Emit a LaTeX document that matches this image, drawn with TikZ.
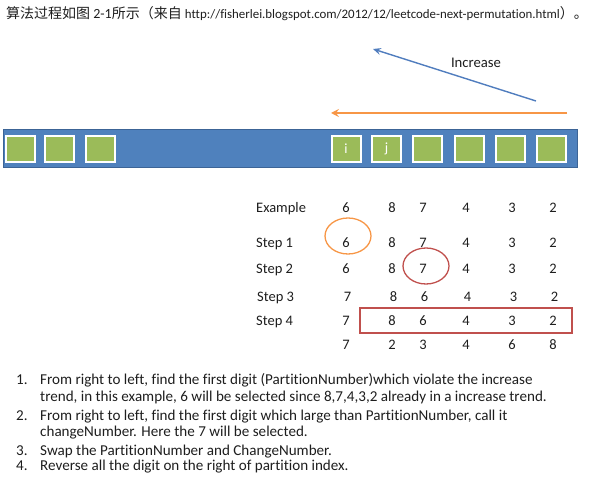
\documentclass[tikz,border=0pt]{standalone}
\usepackage{fontspec}
\setmainfont{Carlito}[Ligatures={NoCommon,NoRare}]
\newfontfamily\cjk{Noto Sans CJK SC}
\usetikzlibrary{arrows.meta,shapes.geometric}
\definecolor{barblue}{RGB}{79,129,189}
\definecolor{baredge}{RGB}{60,100,150}
\definecolor{sqgreen}{RGB}{155,187,89}
\definecolor{arrblue}{RGB}{80,125,190}
\definecolor{arrorange}{RGB}{247,150,70}
\definecolor{markred}{RGB}{192,80,77}
\definecolor{txt}{RGB}{30,30,30}
\begin{document}
\begin{tikzpicture}[x=1pt,y=-1pt,
  sq/.style={draw=white,line width=2pt,fill=sqgreen,minimum width=29pt,minimum height=26pt,inner sep=0pt,text=white,font=\fontsize{14}{14}\selectfont},
  cell/.style={inner sep=0pt,text=txt,font=\fontsize{14.5}{14.5}\selectfont,text height=9pt,text depth=0pt},
  rowlab/.style={cell,anchor=west},
  item/.style={inner sep=0pt,anchor=west,text=txt,font=\fontsize{15.1}{15}\selectfont,text height=9pt,text depth=0pt},
  ringmark/.style={draw=#1,line width=1.3pt,ellipse,minimum width=46pt,minimum height=36pt,inner sep=0pt}]
\useasboundingbox (0,0) rectangle (589,486);
% title
\node[inner sep=0pt,anchor=west,text=txt,font=\fontsize{14}{14}\selectfont] (title) at (6,14)
  {{\cjk 算法过程如图 }2-1{\cjk 所示（来自 }{\fontsize{12.9}{12}\selectfont http://fisherlei.blogspot.com/2012/12/leetcode-next-permutation.html}{\cjk ）。}};
% arrows
\coordinate (bs) at (536,101);
\coordinate (be) at (373,49);
\draw[arrblue,line width=1.4pt,-{Stealth[length=8pt,width=7pt,inset=3pt]}] (bs) -- (be);
\node[inner sep=0pt,text=txt,font=\fontsize{14.7}{14.7}\selectfont] (inc) at (476,63) {Increase};
\coordinate (os) at (567,113);
\coordinate (oe) at (331,113);
\draw[arrorange,line width=2pt,-{Stealth[length=8pt,width=8pt,inset=3pt]}] (os) -- (oe);
% bar
\node[draw=baredge,fill=barblue,line width=0.8pt,minimum width=574pt,minimum height=38pt,inner sep=0pt] (bar) at (290,148.5) {};
\node[sq] (s1) at (20.5,149) {};
\node[sq] (s2) at (59.5,149) {};
\node[sq] (s3) at (100.5,149) {};
\node[sq] (si) at (346,149) {i};
\node[sq] (sj) at (386.5,149) {j};
\node[sq] (s6) at (427.5,149) {};
\node[sq] (s7) at (469,149) {};
\node[sq] (s8) at (510,149) {};
\node[sq] (s9) at (551,149) {};
% table
\node[rowlab] (l0) at (256,208) {Example};
\node[rowlab] (l1) at (256,243) {Step 1};
\node[rowlab] (l2) at (256,269) {Step 2};
\node[rowlab] (l3) at (257,297) {Step 3};
\node[rowlab] (l4) at (256,321) {Step 4};
\foreach \r/\y/\dx/\digits in {0/208/0/{6,8,7,4,3,2},1/243/0/{6,8,7,4,3,2},2/269/0/{6,8,7,4,3,2},3/297/1.5/{7,8,6,4,3,2},4/321/0/{7,8,6,4,3,2},5/345/0/{7,2,3,4,6,8}}{
  \foreach \d [count=\c] in \digits {
    \pgfmathsetmacro{\xx}{{346,392,423,466,512,553}[\c-1]+\dx}
    \node[cell] (r\r c\c) at (\xx,\y) {\d};
  }
}
% marks
\node[ringmark=arrorange] (m1) at (348,236) {};
\node[ringmark=markred] (m2) at (426,266) {};
\node[draw=markred,line width=1.3pt,minimum width=212pt,minimum height=25pt,inner sep=0pt] (box) at (466,320.5) {};
% list
\node[item] (n1) at (16,380) {1.};
\node[item] (t1) at (40,380) {From right to left, find the first digit (PartitionNumber)which violate the increase};
\node[item] (t1b) at (40,397) {trend, in this example, 6 will be selected since 8,7,4,3,2 already in a increase trend.};
\node[item] (n2) at (16,416) {2.};
\node[item] (t2) at (40,416) {From right to left, find the first digit which large than PartitionNumber, call it};
\node[item] (t2b) at (40,432) {changeNumber. Here the 7 will be selected.};
\node[item] (n3) at (16,451) {3.};
\node[item] (t3) at (40,451) {Swap the PartitionNumber and ChangeNumber.};
\node[item] (n4) at (16,466) {4.};
\node[item] (t4) at (40,466) {Reverse all the digit on the right of partition index.};
\end{tikzpicture}
\end{document}
